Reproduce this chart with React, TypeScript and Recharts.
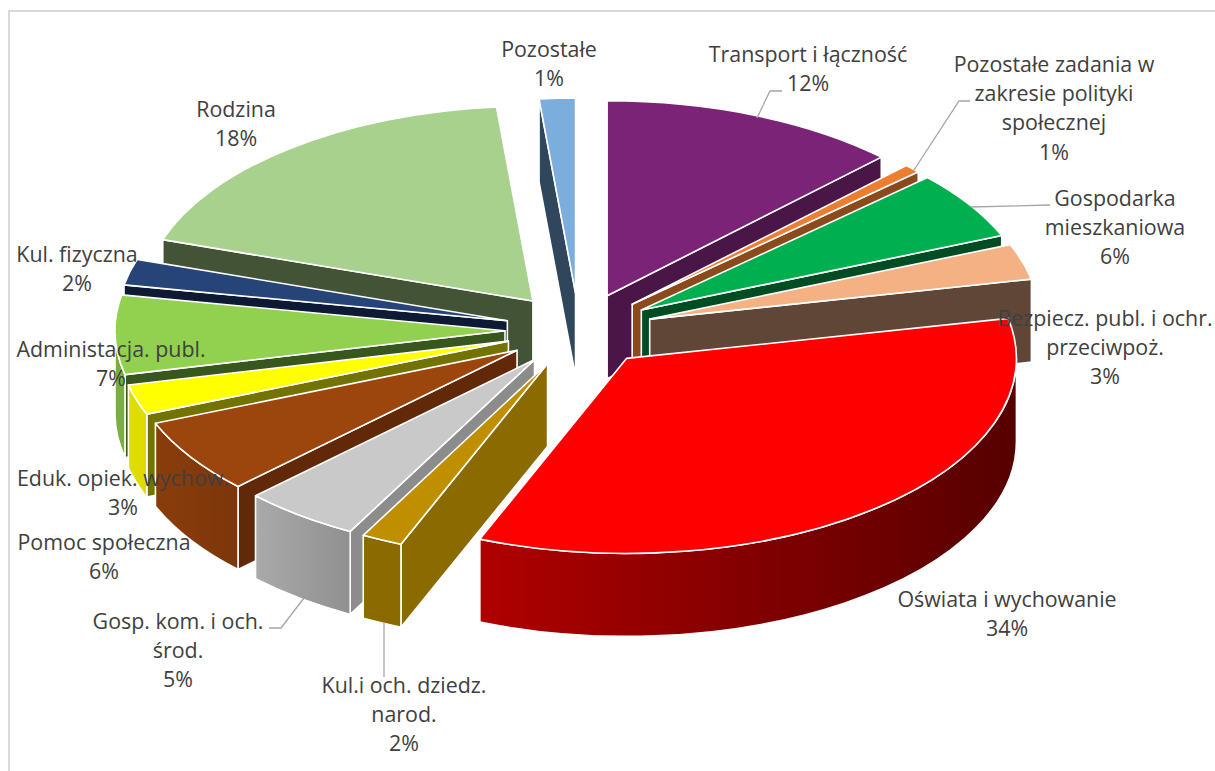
import React from 'react';
import { PieChart, Pie } from 'recharts';

const categories = [
  'Transport i łączność',
  'Pozostałe zadania w zakresie polityki społecznej',
  'Gospodarka mieszkaniowa',
  'Bezpiecz. publ. i ochr. przeciwpoż.',
  'Oświata i wychowanie',
  'Kul.i och. dziedz. narod.',
  'Gosp. kom. i och. środ.',
  'Pomoc społeczna',
  'Eduk. opiek. wychow.',
  'Administacja. publ.',
  'Kul. fizyczna',
  'Rodzina',
  'Pozostałe',
];
const values = [12.4, 0.7, 5.65, 2.95, 34.4, 1.7, 4.85, 6.2, 2.5, 6.55, 2.15, 18.4, 1.49];

const topColors = ['#7B2376', '#ED7D31', '#00B050', '#F4B183', '#FF0000', '#BF8F00', '#C9C9C9', '#9C450C', '#FFFF00', '#92D050', '#264478', '#A9D18E', '#7BAEDC'];
const cutColors = ['#4A1648', '#8B4A1C', '#004D23', '#5F4636', '#800000', '#8B6A00', '#8C8C8C', '#612908', '#737300', '#38571F', '#0E1A33', '#435436', '#2F465C'];
const wallFrom = ['#4A1648', '#8B4A1C', '#004D23', '#5F4636', '#B00000', '#8B6A00', '#AAAAAA', '#8A3D0B', '#E0DE00', '#7AAF40', '#0E1A33', '#435436', '#2F465C'];
const wallTo = ['#4A1648', '#8B4A1C', '#004D23', '#5F4636', '#560000', '#8B6A00', '#909090', '#7C360A', '#DDDB00', '#7AAF40', '#0E1A33', '#435436', '#2F465C'];

// back to front, so nearer slices cover the walls of the ones behind them
const drawOrder = [11, 12, 0, 1, 2, 3, 10, 9, 8, 7, 6, 5, 4];

const data = categories.map((name, i) => ({ name, value: values[i] }));

const WIDTH = 1215;
const HEIGHT = 771;
const CX = 579;
const CY = 330;
const RADIUS = 390;
const SQUASH = 0.5;
const EXPLODE = 74;
const DEPTH = 83;

const labelLayout = [
  { x: 808, y: 53.2, lines: ['Transport i łączność'], leader: '757,118 770,91 782,91' },
  { x: 1054, y: 63.2, lines: ['Pozostałe zadania w', 'zakresie polityki', 'społecznej'], leader: '914,170 959,101 970,101' },
  { x: 1115, y: 197.2, lines: ['Gospodarka', 'mieszkaniowa'], leader: '971,207 1050,205' },
  { x: 1105, y: 317.2, lines: ['Bezpiecz. publ. i ochr.', 'przeciwpoż.'] },
  { x: 1007, y: 598.2, lines: ['Oświata i wychowanie'] },
  { x: 404, y: 684.2, lines: ['Kul.i och. dziedz.', 'narod.'], leader: '384,622 384,677' },
  { x: 178, y: 620.2, lines: ['Gosp. kom. i och.', 'środ.'], leader: '304,598 281,628 269,628' },
  { x: 104, y: 541.2, lines: ['Pomoc społeczna'] },
  { x: 123, y: 477.2, lines: ['Eduk. opiek. wychow.'] },
  { x: 111, y: 348.2, lines: ['Administacja. publ.'] },
  { x: 77, y: 253.2, lines: ['Kul. fizyczna'] },
  { x: 236, y: 108.2, lines: ['Rodzina'] },
  { x: 549, y: 48.2, lines: ['Pozostałe'] },
];

const rad = (deg: number) => (deg * Math.PI) / 180;

const Slice = ({ cx, cy, outerRadius, startAngle, endAngle, index }: any) => {
  // recharts hands over math angles, turn them into clockwise-from-top
  const t0 = 90 - startAngle;
  const t1 = 90 - endAngle;
  const mid = rad((t0 + t1) / 2);
  const rx = outerRadius;
  const ry = outerRadius * SQUASH;
  const tipX = cx + Math.sin(mid) * EXPLODE;
  const tipY = cy - Math.cos(mid) * EXPLODE * SQUASH;
  const at = (t: number): [number, number] => [
    tipX + Math.sin(rad(t)) * rx,
    tipY - Math.cos(rad(t)) * ry,
  ];
  const [ax, ay] = at(t0);
  const [bx, by] = at(t1);
  const large = t1 - t0 > 180 ? 1 : 0;
  const top = `M${tipX},${tipY} L${ax},${ay} A${rx},${ry} 0 ${large} 1 ${bx},${by} Z`;

  const walls = [];
  const line = { stroke: '#fff', strokeWidth: 1.6, strokeLinejoin: 'round' as const };
  if (Math.sin(rad(t0)) < 0) {
    walls.push(
      <path key="start" d={`M${tipX},${tipY} L${ax},${ay} L${ax},${ay + DEPTH} L${tipX},${tipY + DEPTH} Z`} fill={cutColors[index]} {...line} />,
    );
  }
  if (Math.sin(rad(t1)) > 0) {
    walls.push(
      <path key="end" d={`M${tipX},${tipY} L${bx},${by} L${bx},${by + DEPTH} L${tipX},${tipY + DEPTH} Z`} fill={cutColors[index]} {...line} />,
    );
  }
  const a0 = Math.max(t0, 90);
  const a1 = Math.min(t1, 270);
  let arc = null;
  if (a1 > a0) {
    const [sx, sy] = at(a0);
    const [ex, ey] = at(a1);
    const gradId = `wall-${index}`;
    arc = (
      <g>
        <defs>
          <linearGradient id={gradId} gradientUnits="userSpaceOnUse" x1={Math.min(sx, ex)} y1={0} x2={Math.max(sx, ex)} y2={0}>
            <stop offset="0" stopColor={wallFrom[index]} />
            <stop offset="1" stopColor={wallTo[index]} />
          </linearGradient>
        </defs>
        <path
          d={`M${sx},${sy} A${rx},${ry} 0 0 1 ${ex},${ey} L${ex},${ey + DEPTH} A${rx},${ry} 0 0 0 ${sx},${sy + DEPTH} Z`}
          fill={`url(#${gradId})`}
          {...line}
        />
      </g>
    );
  }
  return (
    <g>
      {walls}
      {arc}
      <path d={top} fill={topColors[index]} {...line} />
    </g>
  );
};

const SliceLabel = ({ index }: any) => {
  const item = labelLayout[index];
  const texts = [...item.lines, `${Math.round(values[index])}%`];
  return (
    <g>
      {item.leader && <polyline points={item.leader} fill="none" stroke="#A6A6A6" strokeWidth={1.3} />}
      {texts.map((t, i) => (
        <text
          key={i}
          x={item.x}
          y={item.y + i * 29.3}
          textAnchor="middle"
          dominantBaseline="central"
          fontFamily="'Open Sans', sans-serif"
          fontSize={21.4}
          fill="#404040"
        >
          {t}
        </text>
      ))}
    </g>
  );
};

const App = () => {
  return (
    <div style={{ position: 'absolute', left: 0, top: 0, width: WIDTH, height: HEIGHT, background: '#fff', overflow: 'hidden' }}>
      <div style={{ position: 'absolute', left: 8, top: 10, width: WIDTH, height: HEIGHT, border: '2px solid #D9D9D9', boxSizing: 'border-box' }} />
      <PieChart width={WIDTH} height={HEIGHT} margin={{ top: 0, right: 0, bottom: 0, left: 0 }} style={{ position: 'absolute', left: 0, top: 0 }}>
        {drawOrder.map((sliceIndex) => (
          <Pie
            key={sliceIndex}
            data={data}
            dataKey="value"
            nameKey="name"
            cx={CX}
            cy={CY}
            innerRadius={0}
            outerRadius={RADIUS}
            startAngle={90}
            endAngle={-270}
            isAnimationActive={false}
            shape={(props: any) => (props.index === sliceIndex ? <Slice {...props} /> : <g />)}
          />
        ))}
        <Pie
          data={data}
          dataKey="value"
          nameKey="name"
          cx={CX}
          cy={CY}
          outerRadius={RADIUS}
          startAngle={90}
          endAngle={-270}
          isAnimationActive={false}
          shape={() => <g />}
          labelLine={false}
          label={(props: any) => <SliceLabel index={props.index} />}
        />
      </PieChart>
    </div>
  );
};

export default App;
